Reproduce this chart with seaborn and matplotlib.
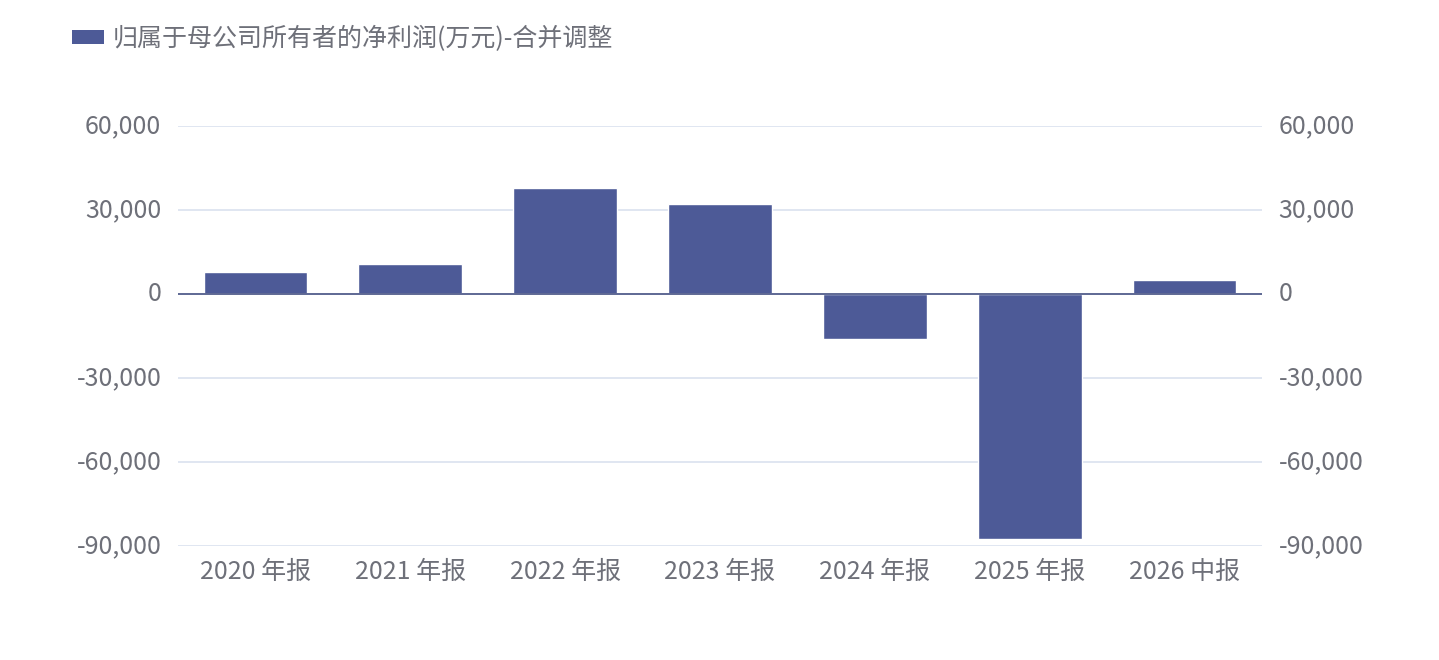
import pandas as pd
import matplotlib
matplotlib.use("Agg")
import matplotlib.pyplot as plt
import matplotlib.transforms as mtransforms
import seaborn as sns
from matplotlib.ticker import FuncFormatter
from matplotlib.patches import Patch

# data
periods = ["2020 年报", "2021 年报", "2022 年报", "2023 年报", "2024 年报", "2025 年报", "2026 中报"]
net_profit = [7700, 10800, 37900, 32000, -16100, -87400, 5000]
series_name = "归属于母公司所有者的净利润(万元)-合并调整"
y_ticks = [-90000, -60000, -30000, 0, 30000, 60000]

bar_color = "#4d5a97"
grid_color = "#e0e6f1"
text_color = "#6e7079"

sns.set_theme(style="white")
plt.rcParams["font.family"] = ["Noto Sans CJK SC", "DejaVu Sans"]

df = pd.DataFrame({"period": periods, "value": net_profit})

fig = plt.figure(figsize=(14.39, 6.6), dpi=100)
ax = fig.add_axes([178 / 1439, 1 - 546 / 660, (1262 - 178) / 1439, (546 - 126) / 660])

sns.barplot(data=df, x="period", y="value", color=bar_color, width=0.67,
            saturation=1, ax=ax, zorder=3)

ax.set_ylim(-90000, 60000)
ax.set_xlim(-0.5, len(periods) - 0.5)
ax.set_yticks(y_ticks)
fmt = FuncFormatter(lambda v, _: f"{int(v):,}")
ax.yaxis.set_major_formatter(fmt)
for t in y_ticks:
    if t != 0:
        ax.axhline(t, color=grid_color, lw=1.4, zorder=1)
ax.axhline(0, color="#5e6894", lw=1.4, zorder=4)

ax.set_xlabel("")
ax.set_ylabel("")
for s in ax.spines.values():
    s.set_visible(False)
ax.tick_params(axis="y", length=0, pad=12, labelsize=18, labelcolor=text_color)
ax.tick_params(axis="x", length=0, pad=9, labelsize=18, labelcolor=text_color)

ax2 = ax.twinx()
ax2.set_ylim(ax.get_ylim())
ax2.set_yticks(y_ticks)
ax2.yaxis.set_major_formatter(fmt)
for s in ax2.spines.values():
    s.set_visible(False)
ax2.tick_params(axis="y", length=0, pad=12, labelsize=18, labelcolor=text_color)
ax2.grid(False)

# nudge y labels up a little (CJK font sits low)
shift = mtransforms.ScaledTranslation(0, 3 / 100, fig.dpi_scale_trans)
for lab in ax.get_yticklabels() + ax2.get_yticklabels():
    lab.set_transform(lab.get_transform() + shift)

handle = Patch(facecolor=bar_color, edgecolor="none")
fig.legend([handle], [series_name], loc="upper left", bbox_to_anchor=(54 / 1439, 1 - 8 / 660),
           frameon=False, fontsize=18, labelcolor=text_color, handlelength=1.28,
           handleheight=0.5, handletextpad=0.35, borderpad=0.2)

fig.savefig("out.png", dpi=100)
